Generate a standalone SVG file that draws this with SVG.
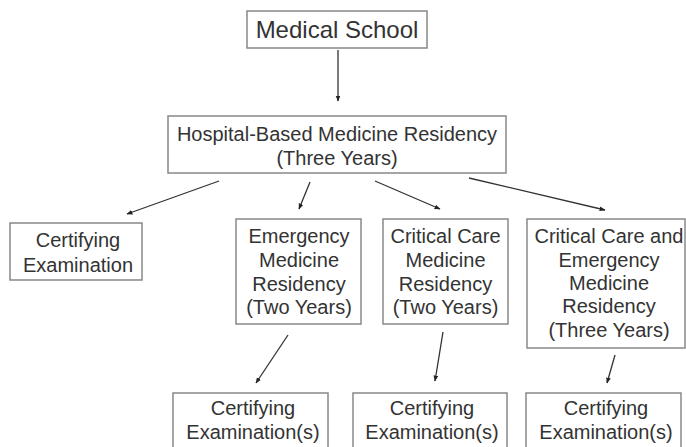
<svg xmlns="http://www.w3.org/2000/svg" width="686" height="447" viewBox="0 0 686 447">
<defs>
<style>
.box{fill:#fff;stroke:#888;stroke-width:1.5}
.t{font-family:"Liberation Sans",Arial,sans-serif;font-size:20px;fill:#333;text-anchor:middle}
.conn line{stroke:#333;stroke-width:1.3;marker-end:url(#ah)}
</style>
<marker id="ah" viewBox="0 0 10 10" refX="9" refY="5" markerWidth="6" markerHeight="6" markerUnits="userSpaceOnUse" orient="auto">
<path d="M0,1 L10,5 L0,9 z" fill="#222"/>
</marker>
</defs>
<rect width="686" height="447" fill="#fff"/>
<g id="connectors" class="conn">
<line x1="338" y1="50" x2="338" y2="101"/>
<line x1="219" y1="181" x2="127" y2="214"/>
<line x1="310" y1="182" x2="299" y2="209"/>
<line x1="375" y1="181" x2="440" y2="209"/>
<line x1="469" y1="178" x2="605" y2="210"/>
<line x1="288" y1="335" x2="256" y2="383"/>
<line x1="443" y1="332" x2="435" y2="381"/>
<line x1="615" y1="355" x2="607" y2="383"/>
</g>
<g id="medical-school">
<rect class="box" x="247" y="11" width="180" height="37"/>
<text class="t" x="337" y="38" style="font-size:24px">Medical School</text>
</g>
<g id="hospital-residency">
<rect class="box" x="168" y="116" width="338" height="57"/>
<text class="t" x="337" y="141">Hospital-Based Medicine Residency</text>
<text class="t" x="337" y="165">(Three Years)</text>
</g>
<g id="certifying-exam">
<rect class="box" x="10" y="223" width="132" height="57"/>
<text class="t" x="78" y="247">Certifying</text>
<text class="t" x="78" y="272">Examination</text>
</g>
<g id="em-residency">
<rect class="box" x="236" y="219" width="125" height="105"/>
<text class="t" x="299" y="243">Emergency</text>
<text class="t" x="299" y="267">Medicine</text>
<text class="t" x="299" y="291">Residency</text>
<text class="t" x="299" y="314">(Two Years)</text>
</g>
<g id="cc-residency">
<rect class="box" x="383" y="219" width="125" height="105"/>
<text class="t" x="445.5" y="243">Critical Care</text>
<text class="t" x="445.5" y="267">Medicine</text>
<text class="t" x="445.5" y="291">Residency</text>
<text class="t" x="445.5" y="314">(Two Years)</text>
</g>
<g id="ccem-residency">
<rect class="box" x="527" y="219" width="158" height="129"/>
<text class="t" x="609" y="243">Critical Care and</text>
<text class="t" x="609" y="267">Emergency</text>
<text class="t" x="609" y="290">Medicine</text>
<text class="t" x="609" y="313">Residency</text>
<text class="t" x="609" y="337">(Three Years)</text>
</g>
<g id="cert-em">
<rect class="box" x="173" y="393" width="155" height="60"/>
<text class="t" x="253" y="415">Certifying</text>
<text class="t" x="253" y="439">Examination(s)</text>
</g>
<g id="cert-cc">
<rect class="box" x="353" y="393" width="154" height="60"/>
<text class="t" x="432" y="415">Certifying</text>
<text class="t" x="432" y="439">Examination(s)</text>
</g>
<g id="cert-ccem">
<rect class="box" x="526" y="393" width="155" height="60"/>
<text class="t" x="606" y="415">Certifying</text>
<text class="t" x="606" y="439">Examination(s)</text>
</g>
</svg>
